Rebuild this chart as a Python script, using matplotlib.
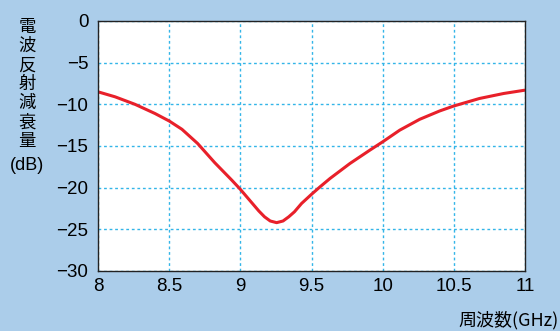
import matplotlib
matplotlib.use("Agg")
import matplotlib.pyplot as plt

plt.rcParams['font.family'] = ['Liberation Sans', 'Noto Sans CJK JP', 'DejaVu Sans']

freq = [8.0, 8.12, 8.26, 8.40, 8.5, 8.59, 8.70, 8.82, 8.94, 9.0, 9.08, 9.13, 9.17, 9.21,
        9.255, 9.30, 9.34, 9.38, 9.43, 9.5, 9.56, 9.63, 9.70, 9.77, 9.91, 10.0, 10.12,
        10.26, 10.40, 10.5, 10.68, 10.85, 11.0]
loss = [-8.5, -9.1, -10.0, -11.1, -12.0, -13.0, -14.7, -17.0, -19.1, -20.2, -21.8, -22.8, -23.5, -24.0,
        -24.2, -24.0, -23.5, -22.9, -21.9, -20.8, -19.9, -18.9, -18.0, -17.1, -15.5, -14.5, -13.1,
        -11.8, -10.8, -10.2, -9.3, -8.7, -8.3]
xticks = [8, 8.5, 9, 9.5, 10, 10.5, 11]
xlabels = ['8', '8.5', '9', '9.5', '10', '10.5', '11']
yticks = [0, -5, -10, -15, -20, -25, -30]
ylabels = ['0', '\u22125', '\u221210', '\u221215', '\u221220', '\u221225', '\u221230']

bg = '#abcdea'
fig = plt.figure(figsize=(5.6, 3.31), dpi=100, facecolor=bg)
ax = fig.add_axes([0.175, 0.1813, 0.7625, 0.7553])
ax.set_facecolor('white')

ax.plot(freq, loss, color='#e8202a', lw=2.2, solid_capstyle='round', solid_joinstyle='round')

ax.set_xlim(8, 11)
ax.set_ylim(-30, 0)
ax.set_xticks(xticks)
ax.set_xticklabels(xlabels)
ax.set_yticks(yticks)
ax.set_yticklabels(ylabels)
ax.tick_params(length=0, labelsize=13.5)
ax.tick_params(axis='y', pad=7)
ax.tick_params(axis='x', pad=5)
ax.grid(True, color='#33b5e8', linestyle=(0, (2, 2)), linewidth=1)
for s in ax.spines.values():
    s.set_color('#222222')
    s.set_linewidth(1)

fig.text(0.048, 0.945, '\n'.join('電波反射減衰量'), ha='center', va='top',
         fontsize=12.5, linespacing=1.07, family=['Noto Sans CJK JP'])
fig.text(0.048, 0.5, '(dB)', ha='center', va='center', fontsize=13)
fig.text(0.998, 0.004, '周波数(GHz)', ha='right', va='bottom', fontsize=13,
         family=['Noto Sans CJK JP', 'DejaVu Sans'])

fig.savefig('out.png', dpi=100, facecolor=bg)
